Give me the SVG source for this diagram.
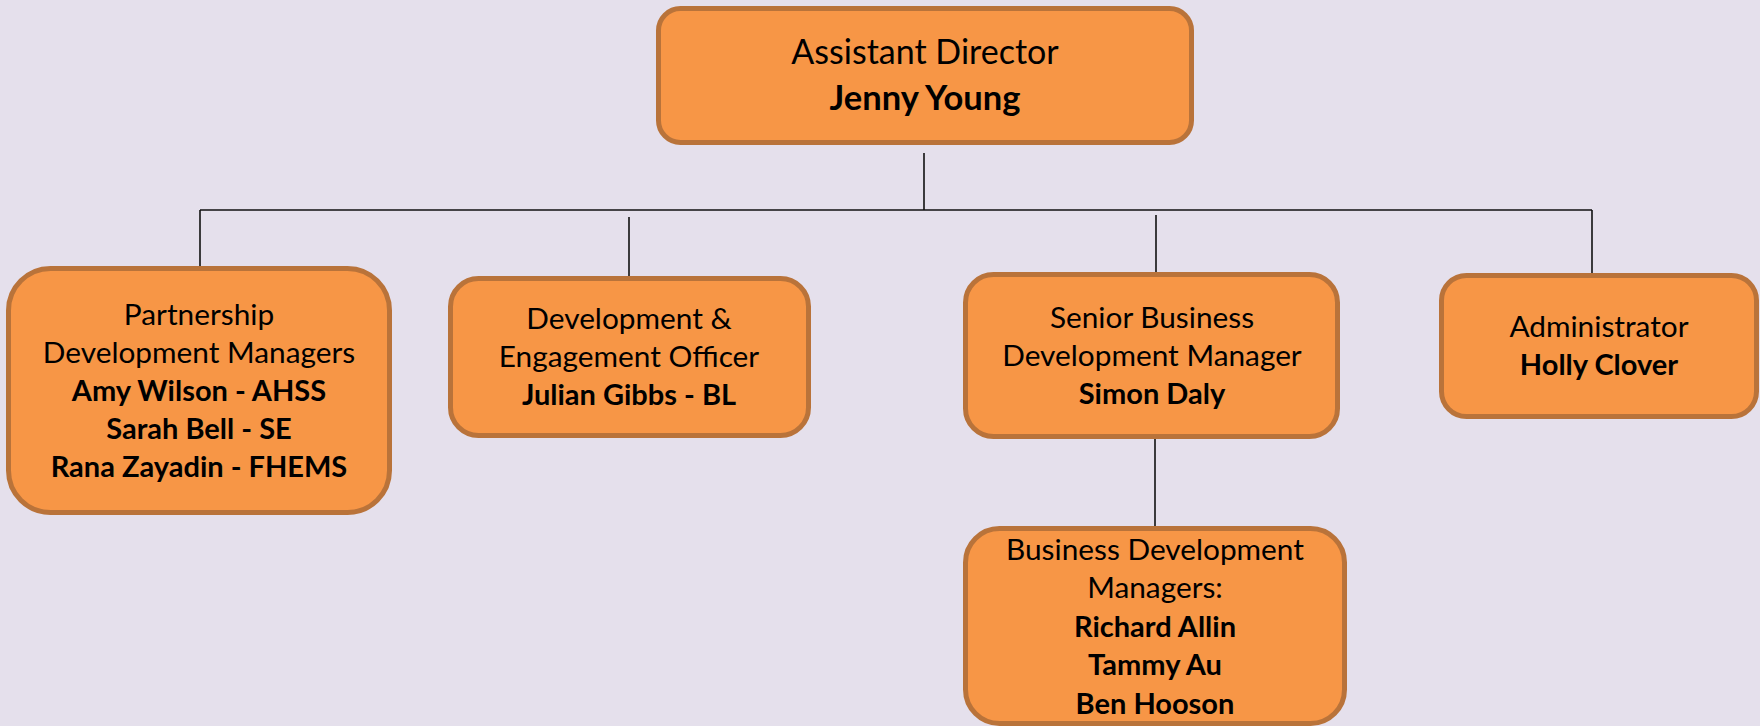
<svg xmlns="http://www.w3.org/2000/svg" width="1760" height="726" viewBox="0 0 1760 726">
<style>
.box{fill:#F79646;stroke:#B9733A;stroke-width:5}
.t{font-family:Lato,"Open Sans","Liberation Sans",sans-serif;font-size:29.8px;fill:#000;text-anchor:middle}
.b{font-weight:bold;font-size:29px}
.big{font-size:34px}
.ln{fill:none;stroke:#111;stroke-width:1.6}
</style>
<rect width="1760" height="726" fill="#E5E0EC"/>
<g id="connectors">
<path class="ln" d="M924 153V210"/>
<path class="ln" d="M200 210H1592"/>
<path class="ln" d="M200 210V268"/>
<path class="ln" d="M629 217V276"/>
<path class="ln" d="M1156 215V273"/>
<path class="ln" d="M1592 210V274"/>
<path class="ln" d="M1155 439V527"/>
</g>
<g id="assistant-director">
<rect class="box" x="658.5" y="8.5" width="533" height="134" rx="22"/>
<text class="t big" x="925" y="64">Assistant Director</text>
<text class="t big b" x="925" y="110" style="font-size:34.5px">Jenny Young</text>
</g>
<g id="partnership">
<rect class="box" x="8.5" y="268.5" width="381" height="244" rx="42"/>
<text class="t" x="199" y="325">Partnership</text>
<text class="t" x="199" y="363">Development Managers</text>
<text class="t b" x="199" y="401">Amy Wilson - AHSS</text>
<text class="t b" x="199" y="439">Sarah Bell - SE</text>
<text class="t b" x="199" y="477">Rana Zayadin - FHEMS</text>
</g>
<g id="engagement">
<rect class="box" x="450.5" y="278.5" width="358" height="157" rx="28"/>
<text class="t" x="629" y="329">Development &amp;</text>
<text class="t" x="629" y="367">Engagement Officer</text>
<text class="t b" x="629" y="405">Julian Gibbs - BL</text>
</g>
<g id="senior-bdm">
<rect class="box" x="965.5" y="274.5" width="372" height="162" rx="28"/>
<text class="t" x="1152" y="328">Senior Business</text>
<text class="t" x="1152" y="366">Development Manager</text>
<text class="t b" x="1152" y="404">Simon Daly</text>
</g>
<g id="administrator">
<rect class="box" x="1441.5" y="275.5" width="315" height="141" rx="25"/>
<text class="t" x="1599" y="337">Administrator</text>
<text class="t b" x="1599" y="375">Holly Clover</text>
</g>
<g id="bdms">
<rect class="box" x="965.5" y="528.5" width="379" height="195" rx="34"/>
<text class="t" x="1155" y="560">Business Development</text>
<text class="t" x="1155" y="598">Managers:</text>
<text class="t b" x="1155" y="637">Richard Allin</text>
<text class="t b" x="1155" y="675">Tammy Au</text>
<text class="t b" x="1155" y="714">Ben Hooson</text>
</g>
</svg>
